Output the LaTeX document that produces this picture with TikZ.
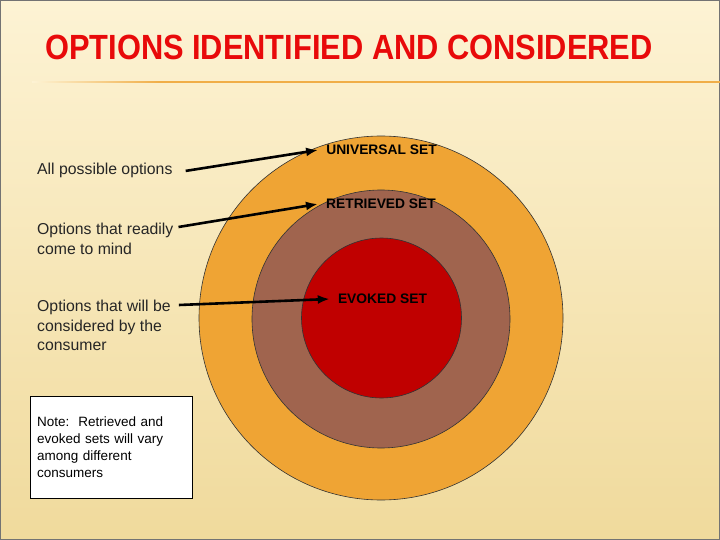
\documentclass[tikz,border=0pt]{standalone}
\usepackage{fontspec}
\setmainfont{Liberation Sans}
\usetikzlibrary{positioning,arrows.meta}
\definecolor{slidetop}{HTML}{FDF3D4}
\definecolor{slidebot}{HTML}{F0DA9C}
\definecolor{rulecol}{HTML}{F0AE48}
\definecolor{univcol}{HTML}{EFA434}
\definecolor{retrcol}{HTML}{A0644E}
\definecolor{evokcol}{HTML}{C00000}
\definecolor{titlered}{HTML}{E80A0A}

\begin{document}
\begin{tikzpicture}[x=1pt,y=-1pt,
  every node/.style={font=\fontsize{15.8}{19.5}\selectfont},
  side/.style={align=left,inner sep=0pt,text=black!85},
  setlabel/.style={font=\bfseries\fontsize{13.8}{15}\selectfont,inner sep=8pt},
  ring/.style={draw=black!80,line width=0.6pt},
  pointer/.style={line width=2.6pt,-{Latex[length=12pt,width=9pt]}}]
% slide background
\useasboundingbox (0,0) rectangle (720,540);
\fill[top color=slidetop,bottom color=slidebot] (0,0) rectangle (720,540);
\draw[black!55,line width=1pt] (0.5,0.5) rectangle (719.5,539.5);
\shade[left color=slidetop,right color=rulecol] (32,81.3) rectangle (160,82.7);
\fill[rulecol] (160,81.3) rectangle (720,82.7);
% title
\node[anchor=base west,inner sep=0pt,text=titlered,
  font=\bfseries\fontsize{35}{38}\selectfont,xscale=0.88] (title) at (45,60)
  {OPTIONS IDENTIFIED AND CONSIDERED};
% nested sets
\fill[ring,fill=univcol] (381,318) circle[radius=182pt];
\fill[ring,fill=retrcol] (381,319) circle[radius=129pt];
\fill[ring,fill=evokcol] (381.5,318) circle[radius=80pt];
\node[setlabel] (uni) at (381.5,150) {UNIVERSAL SET};
\node[setlabel] (ret) at (381,204) {RETRIEVED SET};
\node[setlabel] (evo) at (382.5,299) {EVOKED SET};
% descriptions
\node[side,anchor=base west] (all) at (37,175) {All possible options};
\node[side,anchor=north west] (mind) at (37,223) {Options that readily\\come to mind};
\node[side,anchor=north west] (cons) at (37,300) {Options that will be\\considered by the\\consumer};
\node[draw,fill=white,anchor=north west,minimum width=162pt,minimum height=102pt,
  text width=148pt,inner xsep=7pt,align=left,
  font=\fontsize{13.5}{16.7}\selectfont] (note) at (30,396)
  {Note:\ \ Retrieved and\\evoked sets will vary\\among different\\consumers};
\draw[pointer] ([xshift=13pt]all.east) -- (uni.west);
\draw[pointer] ([shift={(5pt,-4pt)}]mind.north east) -- (ret.west);
\draw[pointer] ([shift={(8pt,-5pt)}]cons.north east) -- (evo.west);
\end{tikzpicture}
\end{document}
